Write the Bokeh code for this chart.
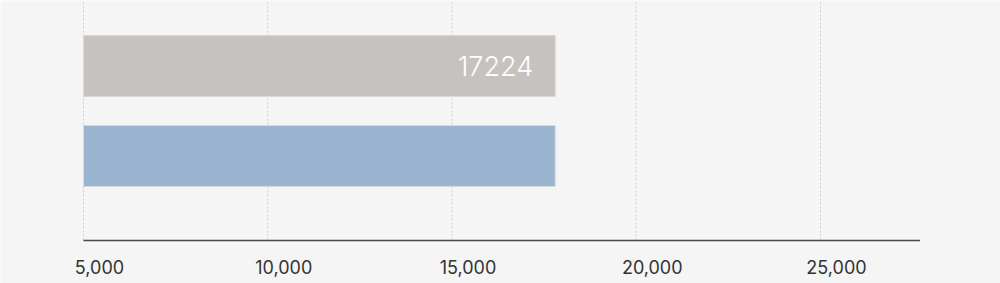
from bokeh.plotting import figure
from bokeh.models import ColumnDataSource, Range1d
from bokeh.core.properties import value
from bokeh.embed import file_html
from bokeh.resources import INLINE

# data
series = ["Series A", "Series B"]
positions = [2, 1]
values = [17800, 17800]
bar_labels = ["17224", ""]
colors = ["#c5c2c0", "#9bb4d0"]
tick_values = [5000, 10000, 15000, 20000, 25000]
tick_labels = ["5,000", "10,000", "15,000", "20,000", "25,000"]
axis_start = 5000
axis_end = 27700
axis_y = 0.061
top_y = 2.728

p = figure(width=1000, height=283, output_backend="svg", toolbar_location=None,
           x_range=Range1d(2748, 29885), y_range=Range1d(-0.417, top_y),
           min_border=0)
p.background_fill_color = "#f5f5f5"
p.border_fill_color = "#f5f5f5"
p.outline_line_color = None
p.xaxis.visible = False
p.yaxis.visible = False
p.xgrid.visible = False
p.ygrid.visible = False

# dotted vertical grid lines
p.segment(x0=tick_values, y0=[axis_y] * len(tick_values), x1=tick_values,
          y1=[top_y] * len(tick_values), line_color="#cfcfcf", line_dash="2 2", line_width=1)

src = ColumnDataSource(dict(y=positions, right=values, color=colors, label=bar_labels,
                            left=[axis_start] * len(values)))
p.hbar(y="y", left="left", right="right", height=0.678, fill_color="color",
       line_color="#d8d8d8", line_width=1, source=src)

p.text(x="right", y="y", text="label", source=src, x_offset=-22,
       text_align="right", text_baseline="middle", text_color="white",
       text_font=value("Inter Light"), text_font_size="27px")

# axis line
p.segment(x0=[axis_start], y0=[axis_y], x1=[axis_end], y1=[axis_y],
          line_color="#4a4a4a", line_width=1.6)

tsrc = ColumnDataSource(dict(x=tick_values, text=tick_labels, y=[axis_y] * len(tick_values)))
p.text(x="x", y="y", text="text", source=tsrc, x_offset=16, y_offset=27,
       text_align="center", text_baseline="middle", text_color="#333333",
       text_font=value("Inter"), text_font_size="18px")

open("out.html", "w").write(file_html(p, INLINE))
